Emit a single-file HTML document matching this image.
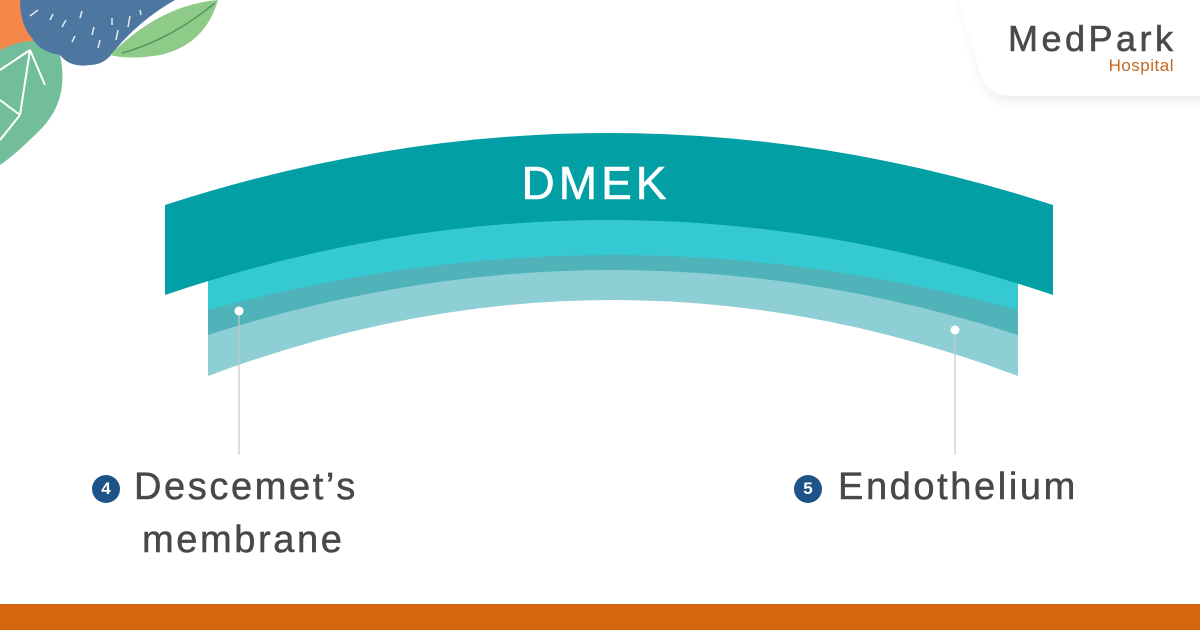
<!DOCTYPE html>
<html><head><meta charset="utf-8"><style>
html,body{margin:0;padding:0;background:#fff}
body{width:1200px;height:630px;position:relative;overflow:hidden;font-family:"Liberation Sans","DejaVu Sans",sans-serif}
.t{position:absolute;color:#48484b;font-size:38px;letter-spacing:2.6px;white-space:nowrap;-webkit-text-stroke:0.5px #48484b}
.b{position:absolute;width:28px;height:28px;border-radius:50%;background:#1d5387;color:#fff;font-size:17px;font-weight:bold;text-align:center;line-height:28px}
</style></head><body>
<svg width="1200" height="630" style="position:absolute;left:0;top:0">
  <defs><filter id="sh" x="-20%" y="-50%" width="140%" height="200%"><feGaussianBlur stdDeviation="6"/></filter></defs>
  <path d="M960,-10 L1210,-10 L1210,100 L1010,100 Q985,100 980,70 L960,-10Z" fill="#000" opacity="0.08" filter="url(#sh)"/>
  <path d="M955,-10 L1210,-10 L1210,96 L1010,96 Q985,96 978,66 L955,-10Z" fill="#fff"/>
  <!-- leaves -->
  <path d="M0,0 L40,0 L40,40 L0,55Z" fill="#f5874a"/>
  <path d="M0,50 Q40,30 60,55 Q70,100 40,130 Q15,155 0,165Z" fill="#72bd9a"/>
  <path d="M0,70 L30,50 M30,50 L45,85 M30,50 L20,115 M20,115 L0,140 M0,100 L20,115" stroke="#fff" stroke-width="2" fill="none"/>
  <path d="M20,0 L175,0 Q140,20 115,50 Q105,65 90,65 Q70,68 60,55 Q40,52 32,38 Q20,25 20,0Z" fill="#4d77a1"/>
  <path d="M110,55 Q160,5 218,0 Q205,45 160,55 Q130,60 110,55Z" fill="#8ecb88"/>
  <path d="M122,53 Q170,40 215,3" stroke="#4e9a60" stroke-width="1.5" fill="none"/>
  <g stroke="#fff" stroke-width="1.5" opacity="0.85"><path d="M30,16 L38,10 M50,20 L53,14 M62,27 L66,20 M80,18 L82,11 M92,35 L94,27 M72,42 L75,36 M100,40 L98,48 M112,18 L112,25 M118,30 L116,40 M130,16 L128,27 M140,10 L141,15"/></g>
  <!-- layers -->
  <path d="M208,200 L1018,200 L1018,376 Q613,224 208,376Z" fill="#8ecfd5"/>
  <path d="M208,200 L1018,200 L1018,335 Q613,205 208,335Z" fill="#4fb3b9"/>
  <path d="M208,200 L1018,200 L1018,310 Q613,200 208,310Z" fill="#35cad3"/>
  <path d="M165,205 Q609,61 1053,205 L1053,295 Q609,145 165,295Z" fill="#029fa4"/>
  <line x1="239" y1="311" x2="239" y2="455" stroke="#c8c8c8" stroke-width="1.2"/>
  <line x1="955" y1="330" x2="955" y2="455" stroke="#c8c8c8" stroke-width="1.2"/>
  <circle cx="239" cy="311" r="4.5" fill="#fff"/>
  <circle cx="955" cy="330" r="4.5" fill="#fff"/>
  <text x="596" y="199" fill="#fff" font-size="46" font-family="Liberation Sans,sans-serif" text-anchor="middle" letter-spacing="4" stroke="#fff" stroke-width="0.6">DMEK</text>
  <text x="1008" y="51" fill="#4a4a4d" font-size="36" font-family="Liberation Sans,sans-serif" textLength="165" stroke="#4a4a4d" stroke-width="0.6">MedPark</text>
  <text x="1174" y="71" fill="#c4681f" font-size="17" font-family="Liberation Sans,sans-serif" text-anchor="end" letter-spacing="0.5">Hospital</text>
  <rect x="0" y="604" width="1200" height="26" fill="#d7640e"/>
</svg>
<div class="b" style="left:92px;top:475px">4</div>
<div class="t" style="left:134px;top:466px">Descemet’s</div>
<div class="t" style="left:142px;top:519px">membrane</div>
<div class="b" style="left:794px;top:475px">5</div>
<div class="t" style="left:838px;top:466px">Endothelium</div>
</body></html>
